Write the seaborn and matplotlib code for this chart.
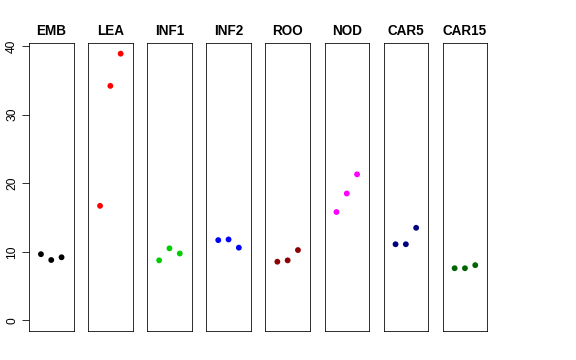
import pandas as pd
import matplotlib
matplotlib.use("Agg")
import matplotlib.pyplot as plt
import seaborn as sns

# tissue panels, three replicates each
tissues = ["EMB", "LEA", "INF1", "INF2", "ROO", "NOD", "CAR5", "CAR15"]
colors = ["black", "red", "#00CD00", "blue", "#8B0000", "magenta", "#000080", "#006400"]
replicate = [1, 2, 3]
emb = [9.65, 8.8, 9.2]
lea = [16.7, 34.2, 38.9]
inf1 = [8.75, 10.5, 9.75]
inf2 = [11.7, 11.8, 10.6]
roo = [8.55, 8.75, 10.25]
nod = [15.8, 18.5, 21.3]
car5 = [11.1, 11.1, 13.5]
car15 = [7.6, 7.6, 8.05]
values = [emb, lea, inf1, inf2, roo, nod, car5, car15]
y_ticks = [0, 10, 20, 30, 40]

sns.set_style("white")
plt.rcParams["font.family"] = ["Liberation Sans", "DejaVu Sans"]
plt.rcParams["text.color"] = "black"
plt.rcParams["ytick.color"] = "black"
plt.rcParams["ytick.labelcolor"] = "black"
plt.rcParams["ytick.left"] = True

fig = plt.figure(figsize=(8, 5), dpi=72)
W, H = 576, 360

ymax = max(max(v) for v in values)
ypad = 0.04 * ymax

for i, (name, col, vals) in enumerate(zip(tissues, colors, values)):
    left = 29 + i * 59.1
    ax = fig.add_axes([left / W, 1 - 331 / H, 44.5 / W, 288 / H])
    df = pd.DataFrame({"rep": replicate, "value": vals})
    sns.scatterplot(data=df, x="rep", y="value", color=col, s=34,
                    edgecolor="none", ax=ax, legend=False)
    ax.set_xlim(-0.16, 4.16)
    ax.set_ylim(-ypad, ymax + ypad)
    ax.set_xlabel("")
    ax.set_ylabel("")
    ax.set_xticks([])
    ax.set_title(name, fontsize=13.5, fontweight="bold", pad=8, color="black")
    for sp in ax.spines.values():
        sp.set_visible(True)
        sp.set_color("black")
        sp.set_linewidth(0.8)
    if i == 0:
        ax.set_yticks(y_ticks)
        ax.set_yticklabels([str(t) for t in y_ticks], rotation=90,
                           va="center", fontsize=12)
        ax.tick_params(axis="y", which="major", left=True, direction="out",
                       length=7, width=0.8, pad=4, colors="black")
    else:
        ax.set_yticks([])

fig.savefig("out.png", dpi=72, facecolor="white")
